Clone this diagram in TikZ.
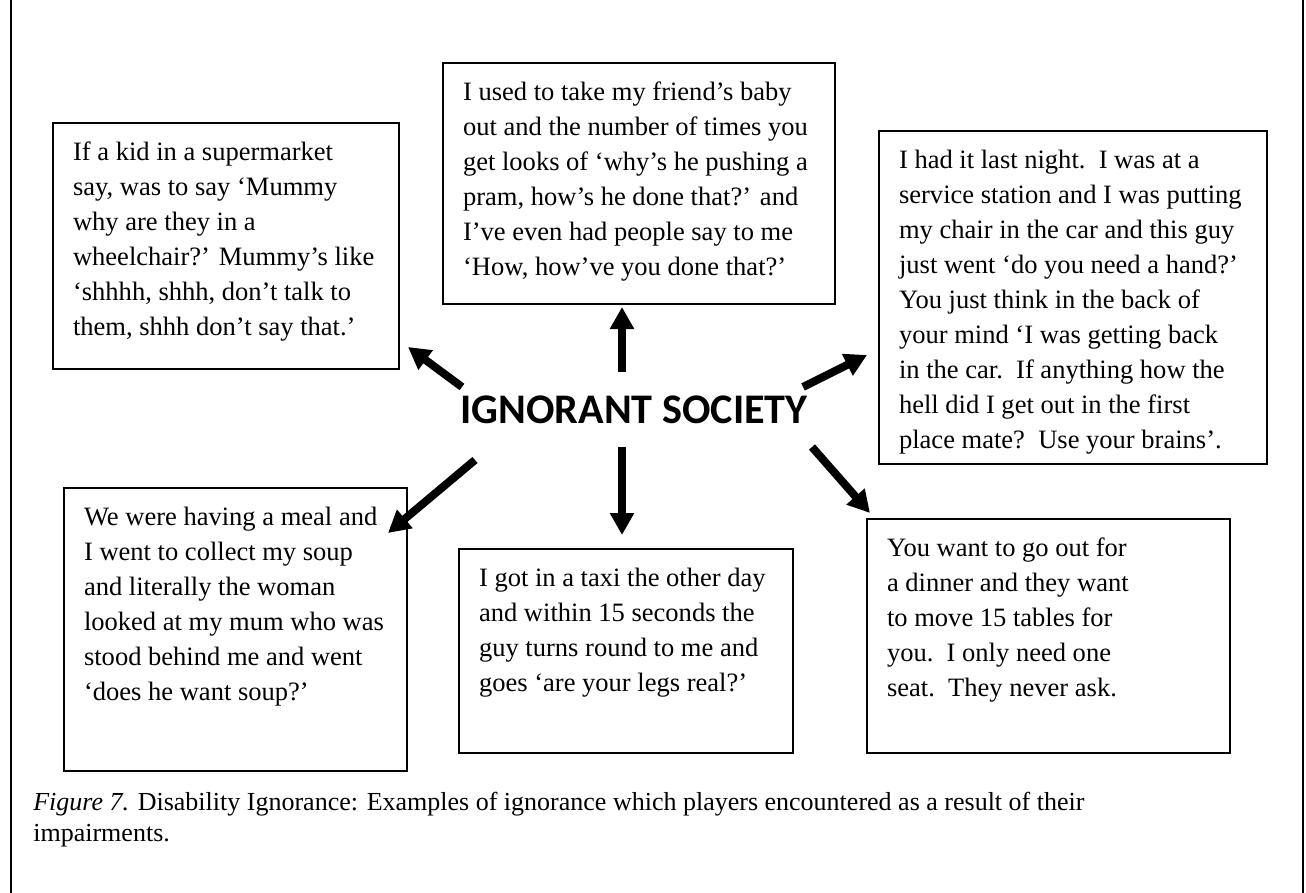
\documentclass[tikz,border=0pt]{standalone}
\usepackage{fontspec}
\setmainfont{Liberation Serif}
\newfontfamily\hubfont{Carlito}
\usetikzlibrary{arrows.meta}

\newcommand{\qtext}[3]{\parbox[t][#2][t]{#1}{\fontsize{15.1pt}{19.9pt}\selectfont\strut #3}}

\begin{document}
\begin{tikzpicture}[x=0.02cm,y=-0.02cm,
    quote/.style={draw,line width=1.2pt,anchor=north west,inner xsep=0.4cm,inner ysep=0.26cm},
    hub/.style={font=\hubfont\bfseries\fontsize{24pt}{28pt}\selectfont},
    push/.style={-{Triangle[width=0.46cm,length=0.44cm]},line width=0.16cm}]

  \useasboundingbox (0,0) rectangle (1306,893);
  \draw[line width=1.2pt] (11,0) -- (11,893) (1303,0) -- (1303,893);

  \node[hub] (society) at (634,410) {IGNORANT SOCIETY};

  \node[quote] (kid) at (52,122) {\qtext{6.12cm}{4.40cm}{If a kid in a supermarket\\
    say, was to say ‘Mummy\\ why are they in a\\ wheelchair?’ Mummy’s like\\
    ‘shhhh, shhh, don’t talk to\\ them, shhh don’t say that.’}};
  \node[quote] (pram) at (442,62) {\qtext{7.04cm}{4.30cm}{I used to take my friend’s baby\\
    out and the number of times you\\ get looks of ‘why’s he pushing a\\
    pram, how’s he done that?’ and\\ I’ve even had people say to me\\
    ‘How, how’ve you done that?’}};
  \node[quote] (station) at (878,130) {\qtext{6.96cm}{6.14cm}{I had it last night.\ \ I was at a\\
    service station and I was putting\\ my chair in the car and this guy\\
    just went ‘do you need a hand?’\\ You just think in the back of\\
    your mind ‘I was getting back\\ in the car.\ \ If anything how the\\
    hell did I get out in the first\\ place mate?\ \ Use your brains’.}};
  \node[quote] (soup) at (63,487) {\qtext{6.06cm}{5.14cm}{We were having a meal and\\
    I went to collect my soup\\ and literally the woman\\ looked at my mum who was\\
    stood behind me and went\\ ‘does he want soup?’}};
  \node[quote] (taxi) at (458,548) {\qtext{5.88cm}{3.56cm}{I got in a taxi the other day\\
    and within 15 seconds the\\ guy turns round to me and\\ goes ‘are your legs real?’}};
  \node[quote] (dinner) at (866,518) {\qtext{6.46cm}{4.16cm}{You want to go out for\\
    a dinner and they want\\ to move 15 tables for\\ you.\ \ I only need one\\
    seat.\ \ They never ask.}};

  % arrow ends
  \coordinate (up-s) at (622,372);   \coordinate (up-e) at (622,307);
  \coordinate (dn-s) at (622,447);   \coordinate (dn-e) at (622,535);
  \coordinate (ul-s) at (462,387);   \coordinate (ul-e) at (408,347);
  \coordinate (ll-s) at (475,460);   \coordinate (ll-e) at (388,533);
  \coordinate (ur-s) at (803,387);   \coordinate (ur-e) at (867,355);
  \coordinate (lr-s) at (812,447);   \coordinate (lr-e) at (870,513);

  \path[push]
        (up-s) edge (up-e)
        (dn-s) edge (dn-e)
        (ul-s) edge (ul-e)
        (ll-s) edge (ll-e)
        (ur-s) edge (ur-e)
        (lr-s) edge (lr-e);

  \node[anchor=base west,align=left,inner sep=0pt,font=\fontsize{14.8pt}{17.4pt}\selectfont] (caption) at (33,841)
    {\textit{Figure 7.} Disability Ignorance: Examples of ignorance which players encountered as a result of their\\ impairments.};

\end{tikzpicture}
\end{document}
